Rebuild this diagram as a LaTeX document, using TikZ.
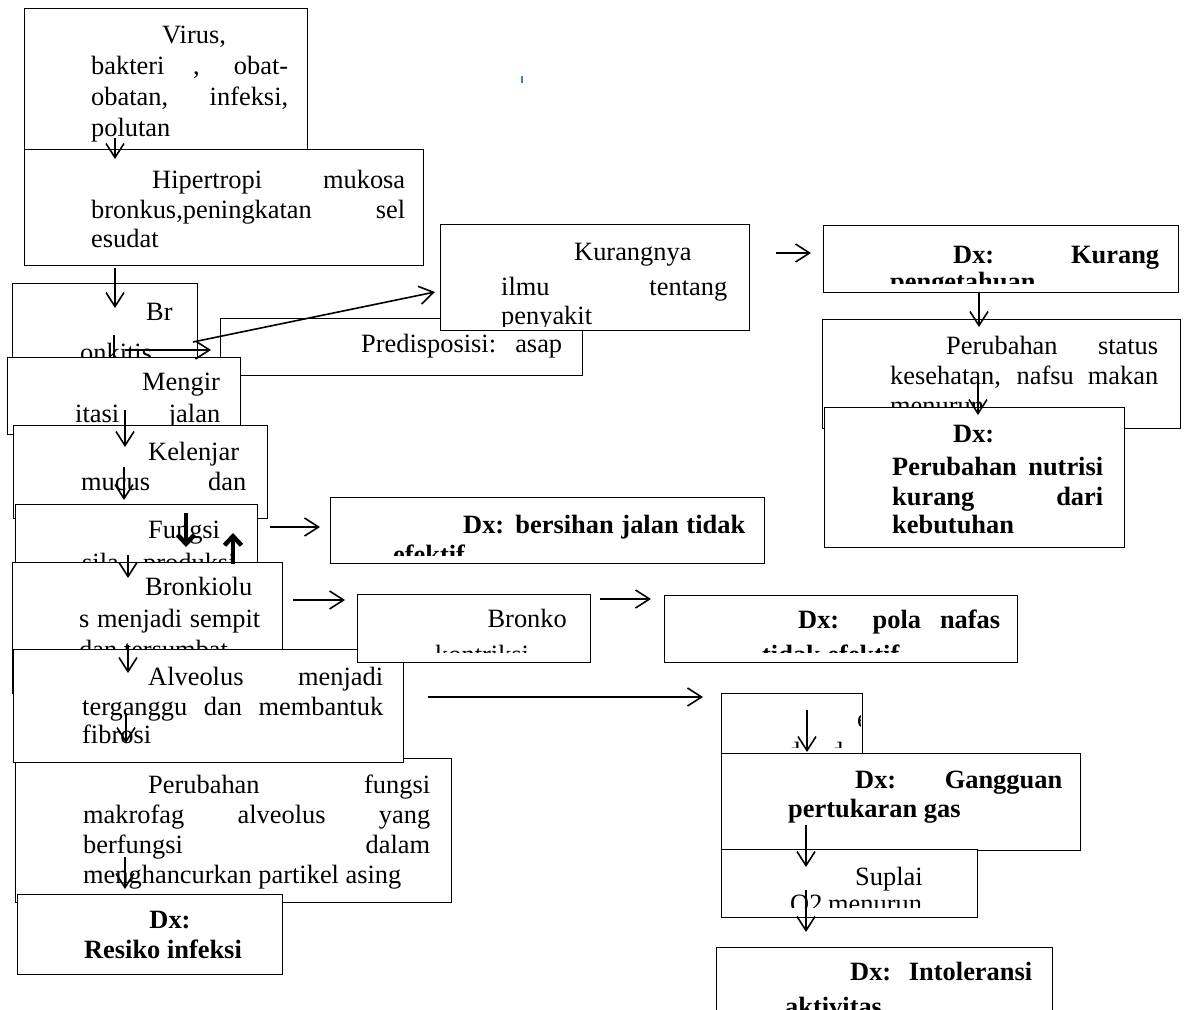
\documentclass[tikz,border=0pt]{standalone}
\usepackage{fontspec}
\setmainfont{Liberation Serif}
\usetikzlibrary{arrows.meta}
\newcounter{tlc}
\tikzset{
  box/.style={draw=black, line width=1.2pt, fill=white, rectangle, inner sep=0pt, anchor=north west},
  txt/.style={anchor=base west, inner sep=0pt, font=\fontsize{26.4}{30}\selectfont},
  txtr/.style={anchor=base east, inner sep=0pt, font=\fontsize{26.4}{30}\selectfont},
  txtb/.style={anchor=base west, inner sep=0pt, font=\fontsize{26.4}{30}\selectfont\bfseries},
  txtc/.style={anchor=base, inner sep=0pt, font=\fontsize{26.4}{30}\selectfont\bfseries},
  arr/.style={line width=1.6pt, -{Straight Barb[length=14pt,width=18pt]}},
  thickarr/.style={line width=4.5pt, -{Straight Barb[length=9pt,width=17pt]}},
}
% text line: [style]{x}{y}{text}
\newcommand\tline[4][txt]{\stepcounter{tlc}\node[#1] (t\arabic{tlc}) at (#2,#3) {#4};}
% justified line: [style]{x1}{x2}{y}{text}
\newcommand\jline[5][txt]{\stepcounter{tlc}\node[#1] (t\arabic{tlc}) at (#2,#4) {\makebox[\dimexpr#3pt-#2pt\relax][s]{#5}};}
% box with clipped text: [bottom inset]{name}{x1}{y1}{x2}{y2}{body}
\newcommand\tbox[7][8]{%
  \node[box, minimum width={#5pt-#3pt}, minimum height={#6pt-#4pt}] (#2) at (#3,#4) {};
  \begin{scope}\clip (#3+1,#4+1) rectangle (#5-2,#6-#1); #7 \end{scope}}
\begin{document}
\begin{tikzpicture}[x=1pt,y=-1pt]
\useasboundingbox (0,0) rectangle (1187,1010);
\clip (0,0) rectangle (1187,1010);
\fill[white] (0,0) rectangle (1187,1010);

% ---- left column ----
\tbox{virus}{24}{8}{307}{180}{%
  \tline{162}{43}{Virus,}
  \jline{91}{288}{74}{bakteri , obat-}
  \jline{91}{288}{105}{obatan, infeksi,}
  \tline{91}{136}{polutan}}
\tbox{hiper}{24}{149}{423}{265}{%
  \jline{152}{405}{188}{Hipertropi mukosa}
  \jline{91}{405}{218}{bronkus,peningkatan sel}
  \tline{91}{247}{esudat}}
\tbox{predis}{220}{318}{582}{375}{%
  \jline{361}{562}{352}{Predisposisi: asap}}
\tbox[4]{kurang}{440}{224}{749}{330}{%
  \tline{574}{260}{Kurangnya}
  \jline{501}{727}{295}{ilmu tentang}
  \tline{501}{324}{penyakit}}
\tbox{bronkitis}{12}{283}{197}{420}{%
  \tline{146}{320}{Br}
  \tline{80}{361}{onkitis}}
\coordinate (s1) at (114,335);
\coordinate (s2) at (114,374);
\draw[arr] (s1) -- (s2);
\tbox{mengir}{7}{357}{240}{434}{%
  \tline{142}{390}{Mengir}
  \jline{75}{220}{422}{itasi jalan}}
\tbox{kelenjar}{13}{425}{267}{518}{%
  \tline{148}{460}{Kelenjar}
  \jline{81}{246}{490}{mucus dan}}
\tbox{fungsi}{15}{504}{257}{600}{%
  \tline{148}{538}{Fungsi}
  \tline{82}{571}{sila}
  \tline{143}{571}{produksi}}
\tbox{bronkiolus}{12}{562}{282}{693}{%
  \tline{145}{595}{Bronkiolu}
  \jline{79}{260}{627}{s menjadi sempit}
  \tline{79}{658}{dan tersumbat}}
\tbox{perubahan}{15}{758}{451}{902}{%
  \jline{148}{430}{793}{Perubahan fungsi}
  \jline{83}{430}{823}{makrofag alveolus yang}
  \jline{83}{430}{853}{berfungsi dalam}
  \tline{83}{883}{menghancurkan partikel asing}}
\tbox{alveolus}{13}{649}{403}{762}{%
  \jline{148}{383}{685}{Alveolus menjadi}
  \jline{82}{383}{715}{terganggu dan membantuk}
  \tline{82}{743}{fibrosi}}
\tbox{resiko}{17}{894}{282}{974}{%
  \tline[txtc]{170}{928}{Dx:}
  \tline[txtc]{163}{958}{Resiko infeksi}}

% ---- middle ----
\tbox{bersihan}{330}{497}{764}{563}{%
  \jline[txtb]{463}{745}{533}{Dx: bersihan jalan tidak}
  \tline[txtb]{393}{563}{efektif}}
\tbox[10]{bronko}{357}{594}{590}{662}{%
  \tline[txtr]{567}{627}{Bronko}
  \tline{435}{663}{kontriksi}}
\tbox[10]{pola}{664}{595}{1017}{662}{%
  \jline[txtb]{798}{1000}{628}{Dx: pola nafas}
  \tline[txtb]{762}{663}{tidak efektif}}

% ---- right column ----
\tbox[9]{dxkurang}{823}{225}{1178}{292}{%
  \jline[txtb]{953}{1159}{263}{Dx: Kurang}
  \tline[txtb]{890}{290}{pengetahuan}}
\tbox{status}{822}{319}{1180}{428}{%
  \jline{946}{1158}{354}{Perubahan status}
  \jline{890}{1158}{384}{kesehatan, nafsu makan}
  \tline{890}{414}{menurun}}
\tbox{nutrisi}{824}{407}{1124}{547}{%
  \tline[txtb]{953}{442}{Dx:}
  \jline[txtb]{892}{1103}{475}{Perubahan nutrisi}
  \jline[txtb]{892}{1103}{505}{kurang dari}
  \tline[txtb]{892}{533}{kebutuhan}}
\tbox[9]{small}{721}{693}{862}{756}{%
  \tline{857}{727}{e}
  \tline{787}{760}{d}
  \tline{830}{760}{d}}
\tbox{gangguan}{721}{753}{1080}{850}{%
  \jline[txtb]{855}{1062}{788}{Dx: Gangguan}
  \tline[txtb]{788}{817}{pertukaran gas}}
\tbox[10]{suplai}{721}{849}{977}{917}{%
  \tline{855}{885}{Suplai}
  \tline{790}{912}{O2}
  \tline{828}{912}{menurun}}
\tbox{intol}{716}{947}{1052}{1040}{%
  \jline[txtb]{850}{1032}{980}{Dx: Intoleransi}
  \tline[txtb]{785}{1015}{aktivitas}}

% ---- connectors ----
\coordinate (a1s) at (115,138);  \coordinate (a1e) at (115,159);
\coordinate (a2s) at (115,268);  \coordinate (a2e) at (115,308);
\coordinate (a3s) at (193,342);  \coordinate (a3e) at (435,292);
\coordinate (a4s) at (125,350);  \coordinate (a4e) at (211,350);
\coordinate (a5s) at (125,410);  \coordinate (a5e) at (125,447);
\coordinate (a6s) at (124,467);  \coordinate (a6e) at (124,500);
\coordinate (a7s) at (186,513);  \coordinate (a7e) at (186,547);
\coordinate (a8s) at (233,564);  \coordinate (a8e) at (233,533);
\coordinate (a9s) at (128,555);  \coordinate (a9e) at (128,578);
\coordinate (a10s) at (270,527); \coordinate (a10e) at (320,527);
\coordinate (a11s) at (128,645); \coordinate (a11e) at (128,673);
\coordinate (a12s) at (293,600); \coordinate (a12e) at (345,600);
\coordinate (a13s) at (600,599); \coordinate (a13e) at (651,599);
\coordinate (a14s) at (126,713); \coordinate (a14e) at (126,743);
\coordinate (a15s) at (428,697); \coordinate (a15e) at (703,697);
\coordinate (a16s) at (125,857); \coordinate (a16e) at (125,889);
\coordinate (a17s) at (776,253); \coordinate (a17e) at (811,253);
\coordinate (a18s) at (979,293); \coordinate (a18e) at (979,327);
\coordinate (a19s) at (978,378); \coordinate (a19e) at (978,415);
\coordinate (a20s) at (807,710); \coordinate (a20e) at (807,752);
\coordinate (a21s) at (806,825); \coordinate (a21e) at (806,867);
\coordinate (a22s) at (806,890); \coordinate (a22e) at (806,932);
\foreach \i in {1,2,3,4,5,6,9,10,11,12,13,14,15,16,17,18,19,20,21,22}
  {\draw[arr] (a\i s) -- (a\i e);}
\draw[thickarr] (a7s) -- (a7e);
\draw[thickarr] (a8s) -- (a8e);

% small blue mark
\draw[line width=2pt, color={rgb,255:red,70;green,120;blue,200}] (522,76) -- (522,83);
\end{tikzpicture}
\end{document}
